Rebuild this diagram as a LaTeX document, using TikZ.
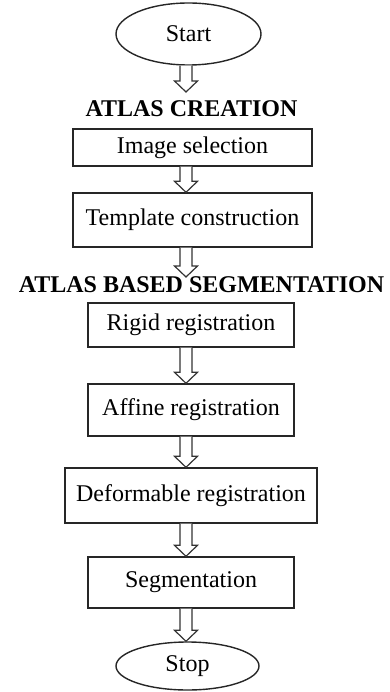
\documentclass[tikz,border=0pt]{standalone}
\usepackage{fontspec}
\setmainfont{Liberation Serif}
\usetikzlibrary{calc,shapes.geometric}
\tikzset{
  procbox/.style={draw=black!85, line width=1.4pt, rectangle, inner sep=0pt, minimum height=#1, font=\fontsize{24}{28}\selectfont},
  termel/.style={draw=black!85, line width=1.4pt, ellipse, inner sep=0pt, font=\fontsize{24}{28}\selectfont},
  heading/.style={inner sep=0pt, anchor=base, font=\fontsize{24}{28}\selectfont\bfseries},
  harrowline/.style={draw=black!80, line width=1.2pt, fill=white, line join=miter},
}
\newcommand{\harrow}[2]{%
  \draw[harrowline] let \p1=(#1), \p2=(#2) in
    (180pt,\y1) -- (180pt,\y2+11pt) -- (174.5pt,\y2+11pt) -- (186pt,\y2)
    -- (197.5pt,\y2+11pt) -- (192pt,\y2+11pt) -- (192pt,\y1);}
\begin{document}
\begin{tikzpicture}[x=1pt,y=1pt]
\useasboundingbox (0,0) rectangle (390,-692);
\node[termel, minimum width=145pt, minimum height=62pt] (start) at (188.5,-34) {Start};
\node[heading] (hcreate) at (191.5,-117) {ATLAS CREATION};
\node[procbox=37pt, minimum width=239pt] (imgsel) at (192.5,-147.5) {Image selection};
\node[procbox=54pt, minimum width=239pt] (templ) at (192.5,-220) {Template construction};
\node[heading] (hseg) at (201.5,-292) {ATLAS BASED SEGMENTATION};
\node[procbox=44pt, minimum width=206pt] (rigid) at (191,-325) {Rigid registration};
\node[procbox=52pt, minimum width=206pt] (affine) at (191,-410) {Affine registration};
\node[procbox=55pt, minimum width=252pt] (deform) at (191,-495.5) {Deformable registration};
\node[procbox=51pt, minimum width=206pt] (segm) at (191,-582.5) {Segmentation};
\node[termel, minimum width=143pt, minimum height=48pt] (stop) at (187.5,-666) {Stop};
\coordinate (tip1) at (186,-92);
\coordinate (tip3) at (186,-277);
\harrow{start.south}{tip1}
\harrow{imgsel.south}{templ.north}
\harrow{templ.south}{tip3}
\harrow{rigid.south}{affine.north}
\harrow{affine.south}{deform.north}
\harrow{deform.south}{segm.north}
\harrow{segm.south}{stop.north}
\end{tikzpicture}
\end{document}
